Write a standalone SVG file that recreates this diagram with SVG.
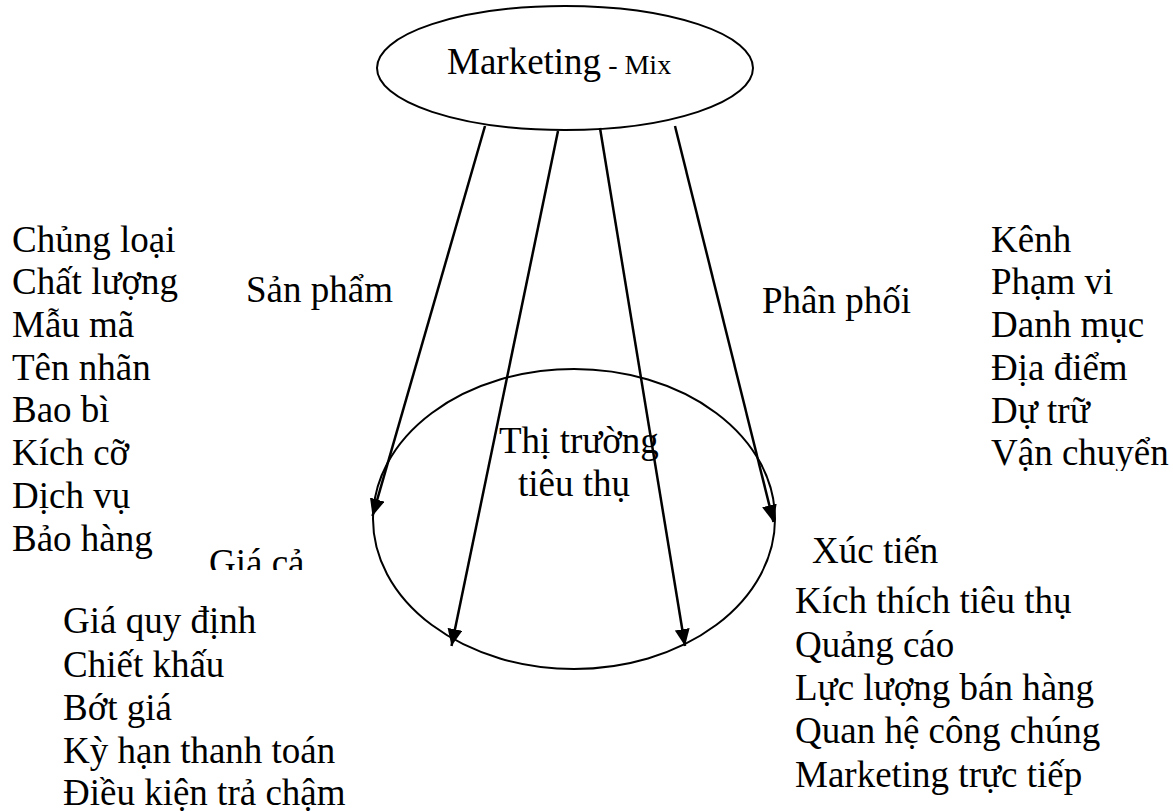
<svg xmlns="http://www.w3.org/2000/svg" width="1173" height="811" viewBox="0 0 1173 811">
<style>
text{font-family:"Liberation Serif","Times New Roman",serif;font-size:37px;fill:#000}
.shape{fill:none;stroke:#000;stroke-width:2}
.conn{stroke:#000;stroke-width:2.5;fill:none}
</style>
<defs>
<marker id="arr" markerUnits="userSpaceOnUse" markerWidth="18" markerHeight="16" refX="17" refY="7.5" orient="auto">
<path d="M0,0 L17,7.5 L0,15 Z" fill="#000"/>
</marker>
<clipPath id="clipGia"><rect x="0" y="0" width="1173" height="570"/></clipPath>
<clipPath id="clipVan"><rect x="0" y="0" width="1173" height="471"/></clipPath>
</defs>
<rect width="1173" height="811" fill="#fff"/>
<g id="marketing-mix">
<ellipse class="shape" cx="565" cy="68" rx="188" ry="62"/>
<text x="447" y="74">Marketing<tspan font-size="28"> - Mix</tspan></text>
</g>
<g id="thi-truong">
<ellipse class="shape" cx="574" cy="519" rx="201" ry="150"/>
<text x="499" y="453">Thị trường</text>
<text x="518" y="496">tiêu thụ</text>
</g>
<g id="connectors">
<line class="conn" x1="485" y1="126" x2="372.5" y2="516" marker-end="url(#arr)"/>
<line class="conn" x1="558" y1="131" x2="451.5" y2="646" marker-end="url(#arr)"/>
<line class="conn" x1="600" y1="128" x2="685" y2="646" marker-end="url(#arr)"/>
<line class="conn" x1="675" y1="126" x2="773.5" y2="522" marker-end="url(#arr)"/>
</g>
<g id="san-pham">
<text x="246" y="302">Sản phẩm</text>
<text x="12" y="251.5">Chủng loại</text>
<text x="12" y="294">Chất lượng</text>
<text x="12" y="337">Mẫu mã</text>
<text x="12" y="379.5">Tên nhãn</text>
<text x="12" y="422">Bao bì</text>
<text x="12" y="465">Kích cỡ</text>
<text x="12" y="508">Dịch vụ</text>
<text x="12" y="551">Bảo hàng</text>
</g>
<g id="gia-ca">
<text x="209" y="575" clip-path="url(#clipGia)">Giá cả</text>
<text x="63" y="633">Giá quy định</text>
<text x="63" y="676.5">Chiết khấu</text>
<text x="63" y="720">Bớt giá</text>
<text x="63" y="763">Kỳ hạn thanh toán</text>
<text x="63" y="805">Điều kiện trả chậm</text>
</g>
<g id="phan-phoi">
<text x="762" y="313">Phân phối</text>
<text x="991" y="251.5">Kênh</text>
<text x="991" y="293.5">Phạm vi</text>
<text x="991" y="337">Danh mục</text>
<text x="991" y="380">Địa điểm</text>
<text x="991" y="422.5">Dự trữ</text>
<text x="991" y="465" clip-path="url(#clipVan)">Vận chuyển</text>
</g>
<g id="xuc-tien">
<text x="812" y="563">Xúc tiến</text>
<text x="795" y="613">Kích thích tiêu thụ</text>
<text x="795" y="656.5">Quảng cáo</text>
<text x="795" y="700">Lực lượng bán hàng</text>
<text x="795" y="743">Quan hệ công chúng</text>
<text x="795" y="786.5">Marketing trực tiếp</text>
</g>
</svg>
